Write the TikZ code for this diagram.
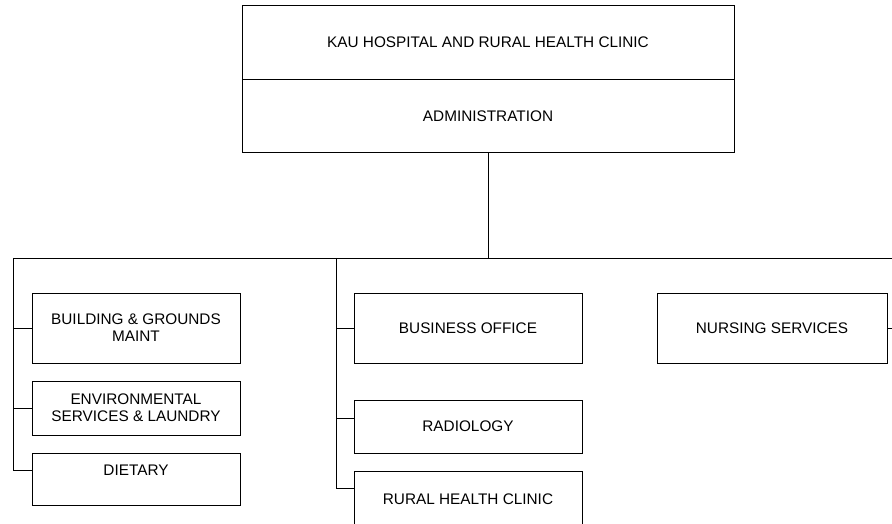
\documentclass[tikz,border=0pt]{standalone}
\usepackage{fontspec}
\setmainfont{Liberation Sans}
\usetikzlibrary{positioning}

\begin{document}
\begin{tikzpicture}[
    x=1bp, y=-1bp,
    unit/.style={draw, rectangle, line width=0.9bp, inner sep=2bp, align=center,
      font=\fontsize{15.4}{17}\selectfont},
    wide/.style={unit, minimum width=492bp},
    small/.style={unit, minimum width=208bp},
    mid/.style={unit, minimum width=228bp},
    link/.style={line width=0.9bp}
  ]
  \useasboundingbox (0,0) rectangle (892,524);
  \clip (0,0) rectangle (892,524);

  % top of the chart
  \node[wide, minimum height=74bp] (org) at (488,42) {KAU HOSPITAL AND RURAL HEALTH CLINIC};
  \node[wide, minimum height=73bp, below=0pt of org] (admin) {ADMINISTRATION};

  % left column
  \node[small, minimum height=70bp] (bldg) at (136,328) {BUILDING \& GROUNDS\\MAINT};
  \node[small, minimum height=54bp] (env) at (136,408) {ENVIRONMENTAL\\SERVICES \& LAUNDRY};
  \node[small, minimum height=52bp, text height=10bp, text depth=18bp] (diet) at (136,479) {DIETARY};

  % middle column
  \node[mid, minimum height=70bp] (bus) at (468,328) {BUSINESS OFFICE};
  \node[mid, minimum height=53bp] (rad) at (468,426.5) {RADIOLOGY};
  \node[mid, minimum height=56bp] (rhc) at (468,499) {RURAL HEALTH CLINIC};

  % right column
  \node[mid, minimum width=230bp, minimum height=70bp] (nurs) at (772,328) {NURSING SERVICES};

  \coordinate (bar) at (488,258);
  \coordinate (barL) at (13,258);
  \coordinate (barM) at (336,258);
  \coordinate (barR) at (892,258);

  \draw[link] (admin.south) -- (bar);
  \draw[link] (barL) -- (barR);

  \draw[link] (barL) |- ([yshift=9bp]diet.west);
  \draw[link] (bldg.west) -- (bldg.west -| barL);
  \draw[link] (env.west) -- (env.west -| barL);

  \draw[link] (barM) |- ([yshift=11bp]rhc.west);
  \draw[link] (bus.west) -- (bus.west -| barM);
  \draw[link] ([yshift=8bp]rad.west) -- ([yshift=8bp]rad.west -| barM);

  \draw[link] (nurs.east) -- (nurs.east -| barR);
\end{tikzpicture}
\end{document}
